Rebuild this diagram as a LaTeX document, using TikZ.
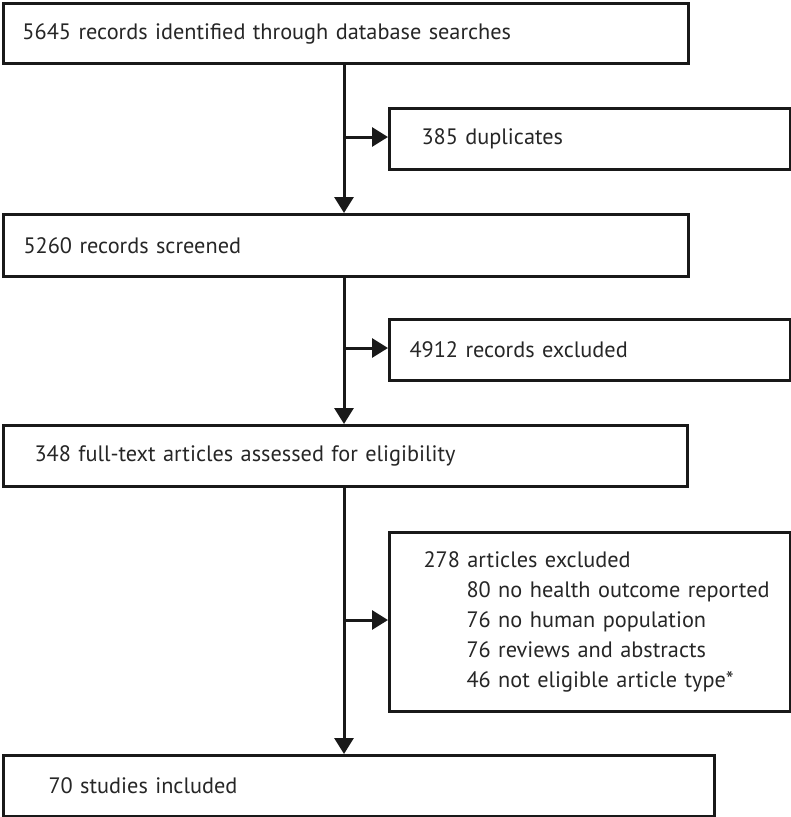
\documentclass[tikz,border=0pt]{standalone}
\usepackage{fontspec}
\setmainfont{PT Sans}
\usetikzlibrary{arrows.meta}
\begin{document}
\begin{tikzpicture}[x=1pt,y=-1pt,
  flowbox/.style={draw=black!90, line width=3pt, rectangle, anchor=north west, align=left,
     font=\fontsize{22.3}{30}\selectfont, text=black!85, inner ysep=0pt},
  conn/.style={line width=3pt, draw=black!90, -{Triangle[length=16pt,width=19pt]}}
]
\useasboundingbox (0,0) rectangle (791,817);
\node[flowbox, minimum height=60pt, text width=647pt, inner xsep=19pt] (b1) at (2,2)
  {5645 records identified through database searches};
\node[flowbox, minimum height=61pt, text width=337pt, inner xsep=32pt] (b2) at (388,107)
  {385 duplicates};
\node[flowbox, minimum height=62pt, text width=645pt, inner xsep=20pt] (b3) at (2,213)
  {5260 records screened};
\node[flowbox, minimum height=61pt, text width=361pt, inner xsep=20pt] (b4) at (388,318)
  {4912 records excluded};
\node[flowbox, minimum height=61pt, text width=622pt, inner xsep=31pt] (b5) at (2,424)
  {348 full-text articles assessed for eligibility};
\node[flowbox, minimum height=179pt, text width=381pt, inner xsep=10pt] (b6) at (388,531)
  {\hspace*{24pt}278 articles excluded\\
   \hspace*{67pt}80 no health outcome reported\\
   \hspace*{67pt}76 no human population\\
   \hspace*{67pt}76 reviews and abstracts\\
   \hspace*{67pt}46 not eligible article type*};
\node[flowbox, minimum height=61pt, text width=621pt, inner xsep=45pt] (b7) at (2,754)
  {70 studies included};
\coordinate (s1) at (344,62);
\coordinate (j1) at (344,137);
\coordinate (j2) at (344,348);
\coordinate (j3) at (344,620);
\draw[conn] (s1) -- (b3.north -| s1);
\draw[conn] (b3.south -| s1) -- (b5.north -| s1);
\draw[conn] (b5.south -| s1) -- (b7.north -| s1);
\draw[conn] (j1) -- (j1 -| b2.west);
\draw[conn] (j2) -- (j2 -| b4.west);
\draw[conn] (j3) -- (j3 -| b6.west);
\end{tikzpicture}
\end{document}
